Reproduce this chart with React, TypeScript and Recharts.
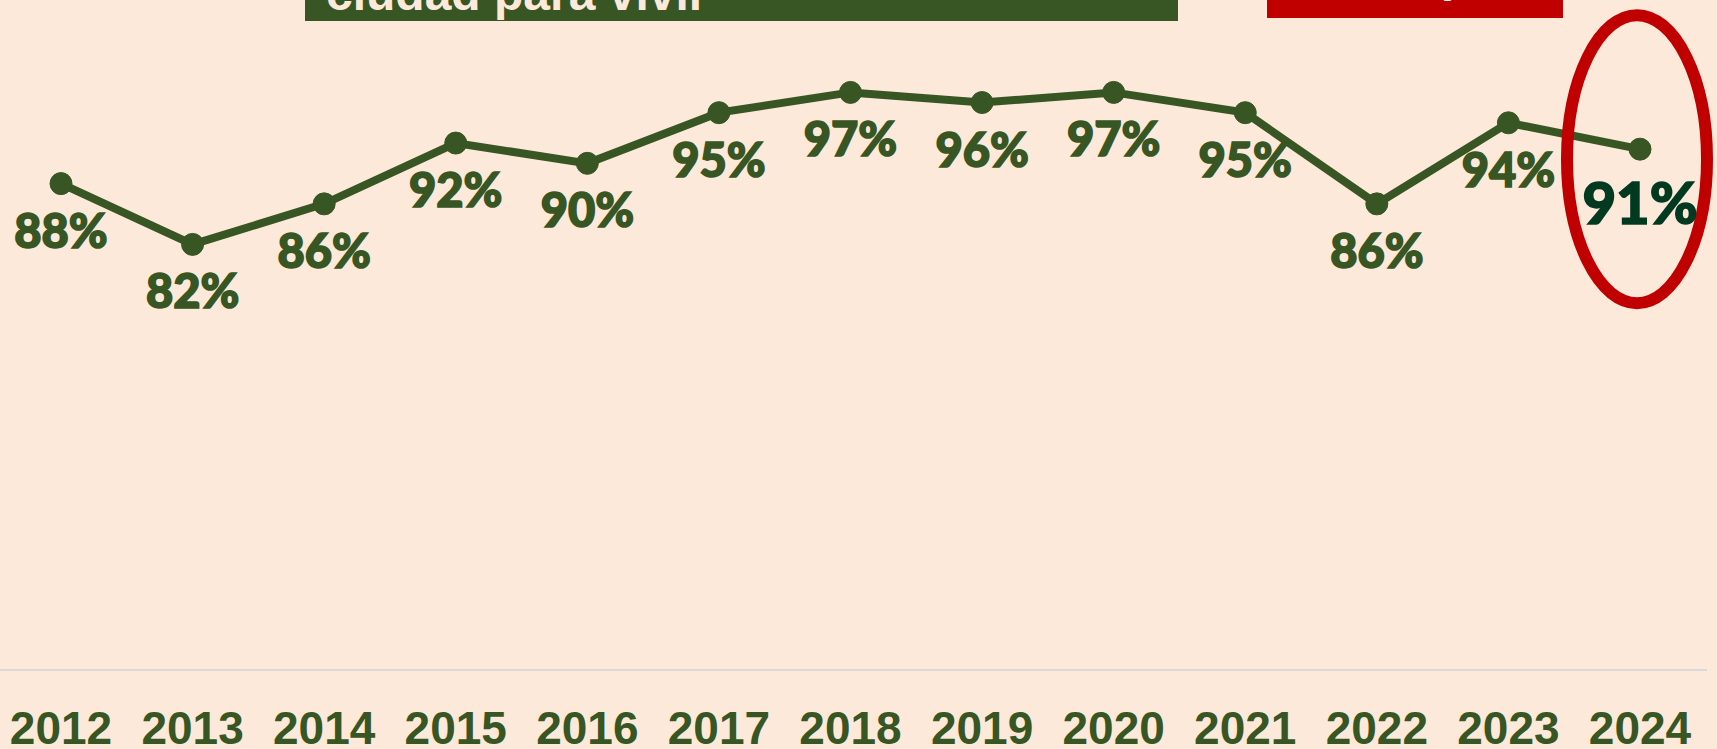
import React from 'react';
import { LineChart, Line, XAxis, YAxis, LabelList, ReferenceDot } from 'recharts';

const years = ['2012', '2013', '2014', '2015', '2016', '2017', '2018', '2019', '2020', '2021', '2022', '2023', '2024'];
const satisfaction = [88, 82, 86, 92, 90, 95, 97, 96, 97, 95, 86, 94, 91.4];

const data = years.map((year, i) => ({ year, value: satisfaction[i] }));

const GREEN = '#375623';
const DARK_GREEN = '#013A20';
const RED = '#C00000';
const BG = '#FDE9D9';

function ValueLabel(props: any) {
  const { x, y, value, index } = props;
  const last = index === years.length - 1;
  const color = last ? DARK_GREEN : GREEN;
  return (
    <text
      x={x}
      y={y + (last ? 75 : 64)}
      textAnchor="middle"
      fill={color}
      stroke={color}
      strokeWidth={1.6}
      fontFamily="Lato"
      fontWeight={900}
      fontSize={last ? 58 : 47}
    >
      {Math.round(value)}%
    </text>
  );
}

// red ring around the latest value
function Ring(props: any) {
  const { cx, cy } = props;
  return <ellipse cx={cx - 3} cy={cy + 10} rx={70} ry={144} fill="none" stroke={RED} strokeWidth={12} />;
}

export default function App() {
  return (
    <div style={{ position: 'absolute', left: 0, top: 0, width: 1717, height: 749, background: BG, overflow: 'hidden' }}>
      <svg width={1717} height={749} style={{ position: 'absolute', left: 0, top: 0 }}>
        <rect x={305} y={-60} width={873} height={81} fill={GREEN} />
        <text x={326} y={10} fill={BG} fontFamily="Liberation Sans" fontWeight="bold" fontSize={48}>
          ciudad para vivir
        </text>
        <rect x={1267} y={-60} width={296} height={78} fill={RED} />
        <text x={1442} y={-7} fill="#FFFFFF" fontFamily="Liberation Sans" fontWeight="bold" fontSize={40}>
          y
        </text>
      </svg>
      <div style={{ position: 'absolute', left: 0, top: 0 }}>
        <LineChart width={1717} height={749} data={data} margin={{ top: 62, right: 10, bottom: 0, left: 0 }}>
          <XAxis
            dataKey="year"
            height={79}
            padding={{ left: 61, right: 67 }}
            axisLine={{ stroke: '#D9D9D9', strokeWidth: 2 }}
            tickLine={false}
            tickSize={0}
            tickMargin={41}
            interval={0}
            tick={{ fill: GREEN, fontFamily: 'Liberation Sans', fontWeight: 'bold', fontSize: 46 }}
          />
          <YAxis hide domain={[40, 100]} />
          <ReferenceDot x="2024" y={91.4} shape={Ring} />
          <Line
            dataKey="value"
            stroke={GREEN}
            strokeWidth={8}
            dot={{ r: 11, fill: GREEN, stroke: GREEN, strokeWidth: 1 }}
            isAnimationActive={false}
          >
            <LabelList dataKey="value" content={ValueLabel} />
          </Line>
        </LineChart>
      </div>
    </div>
  );
}
